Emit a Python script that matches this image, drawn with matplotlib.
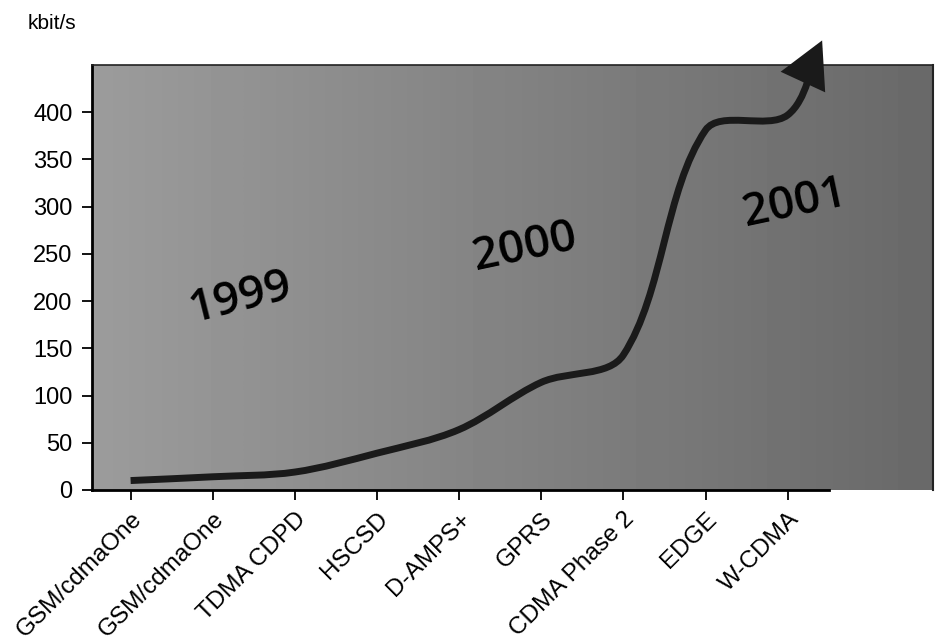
import numpy as np
import matplotlib
matplotlib.use("Agg")
import matplotlib.pyplot as plt
from matplotlib.path import Path
from matplotlib.patches import FancyArrowPatch

# ---- data ----
categories = ["GSM/cdmaOne", "GSM/cdmaOne", "TDMA CDPD", "HSCSD", "D-AMPS+",
              "GPRS", "CDMA Phase 2", "EDGE", "W-CDMA"]
speeds = [10, 14, 19, 39, 64, 114, 143, 381, 397]
arrow_tip = (8.42, 476)          # where the arrow head ends (above the plot)
yticks = [0, 50, 100, 150, 200, 250, 300, 350, 400]
years = ["1999", "2000", "2001"]
year_pos = [(1.34, 203), (4.80, 256), (8.09, 303)]
year_rot = [14, 12, 12]

plt.rcParams['font.family'] = ['Liberation Sans', 'DejaVu Sans']

fig = plt.figure(figsize=(9.35, 6.42), dpi=100)
ax = fig.add_axes([92/935, 1 - 490/642, (933 - 92)/935, (490 - 65)/642])

xlo, xhi = -0.47, 9.77
ax.set_xlim(xlo, xhi)
ax.set_ylim(0, 450)

# gradient background
grad = np.linspace(0.61, 0.41, 256).reshape(1, -1)
ax.imshow(grad, cmap='gray', vmin=0, vmax=1, aspect='auto',
          extent=[0, 1, 0, 1], transform=ax.transAxes, zorder=0,
          interpolation='bicubic')

# smooth curve, spreadsheet-style smoothing computed in screen space
xs = list(range(len(speeds))) + [arrow_tip[0]]
ys = list(speeds) + [arrow_tip[1]]
P = ax.transData.transform(np.column_stack([xs, ys]).astype(float))
n = len(P)
Pe = np.vstack([P[0], P, P[-1]])          # duplicated end points
seg = np.linalg.norm(np.diff(Pe, axis=0), axis=1)
verts_px = [P[0]]
for k in range(n - 1):
    i = k + 1
    T1 = Pe[i+1] - Pe[i-1]
    T2 = Pe[i+2] - Pe[i]
    dprev, dcur, dnext = seg[i-1], seg[i], seg[i+1]
    r1 = dcur / (dprev + dcur) if (dprev + dcur) > 0 else 0.5
    r2 = dcur / (dcur + dnext) if (dcur + dnext) > 0 else 0.5
    c1 = Pe[i] + T1 * r1 / 3.0
    c2 = Pe[i+1] - T2 * r2 / 3.0
    verts_px += [c1, c2, Pe[i+1]]
verts = ax.transData.inverted().transform(np.array(verts_px))
codes = [Path.MOVETO] + [Path.CURVE4] * (3 * (n - 1))
path = Path(verts, codes)

arrow = FancyArrowPatch(path=path, arrowstyle='-|>,head_length=1.4,head_width=0.75',
                        mutation_scale=18, color='#1a1a1a', lw=5,
                        capstyle='butt', joinstyle='miter', clip_on=False, zorder=3)
ax.add_patch(arrow)

# year labels
for t, (x, y), r in zip(years, year_pos, year_rot):
    ax.text(x, y, t, fontsize=33, rotation=r, ha='center', va='center',
            color='black', family=['Open Sans', 'DejaVu Sans'], weight='semibold',
            zorder=4)

# axes styling
ax.set_xticks(range(len(categories)))
ax.set_xticklabels(categories, fontsize=17.5, rotation=45, ha='right', va='top',
                   rotation_mode='anchor')
ax.set_yticks(yticks)
ax.set_yticklabels([str(v) for v in yticks], fontsize=17)
ax.tick_params(axis='y', length=7, width=1.3, pad=7, direction='out')
ax.tick_params(axis='x', length=7, width=1.3, pad=6, direction='out')

ax.spines['left'].set_linewidth(2)
ax.spines['bottom'].set_linewidth(2)
ax.spines['bottom'].set_bounds(xlo, 8.5)
ax.spines['top'].set_linewidth(1.2)
ax.spines['right'].set_linewidth(1.5)
ax.spines['top'].set_color('#222222')
ax.spines['right'].set_color('#222222')

fig.text(28/935, 1 - 29/642, "kbit/s", fontsize=15, ha='left', va='baseline')

fig.savefig("out.png", dpi=100)
